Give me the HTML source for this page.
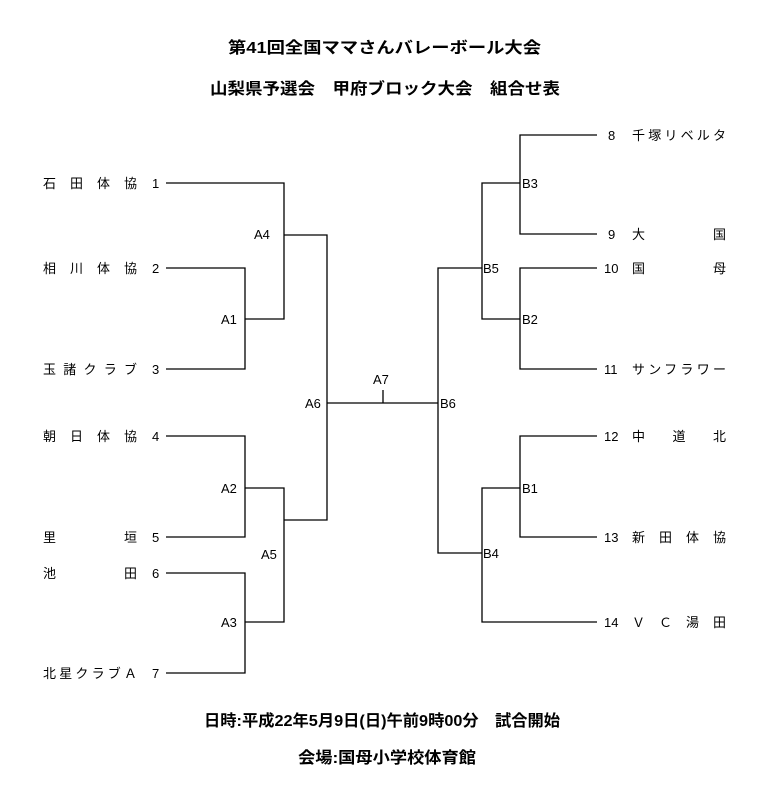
<!DOCTYPE html>
<html><head><meta charset="utf-8"><style>
html,body{margin:0;padding:0;background:#fff;}
svg{display:block;}
text{font-family:"Liberation Sans","Noto Sans CJK JP",sans-serif;fill:#000;}
.t{font-size:16px;font-weight:bold;}
.n{font-size:13px;}
.l{font-size:13px;}
</style></head><body>
<svg width="775" height="800" viewBox="0 0 775 800" xmlns="http://www.w3.org/2000/svg">
<text class="t" x="228" y="53" textLength="313" lengthAdjust="spacingAndGlyphs">第41回全国ママさんバレーボール大会</text>
<text class="t" x="210" y="94" textLength="350" lengthAdjust="spacingAndGlyphs">山梨県予選会　甲府ブロック大会　組合せ表</text>
<text class="t" x="204" y="726" textLength="356" lengthAdjust="spacingAndGlyphs">日時:平成22年5月9日(日)午前9時00分　試合開始</text>
<text class="t" x="298" y="763" textLength="178" lengthAdjust="spacingAndGlyphs">会場:国母小学校体育館</text>

<g stroke="#000" stroke-width="1.3" fill="none">
<path d="M166 183H284V319H245M166 268H245V369H166M284 235H327V520H284M245 319"/>
<path d="M166 436H245V537H166M245 488H284V622H245M166 573H245V673H166"/>
<path d="M327 403H438M383 390V403"/>
<path d="M597 135H520V234H597M520 183H482V319H520M597 268H520V369H597M482 268H438V553H482"/>
<path d="M597 436H520V537H597M520 488H482V622H597"/>
</g>

<g class="n">
<text x="43" y="188" textLength="94" lengthAdjust="spacing">石田体協</text><text x="152" y="188">1</text>
<text x="43" y="273" textLength="94" lengthAdjust="spacing">相川体協</text><text x="152" y="273">2</text>
<text x="43" y="374" textLength="94" lengthAdjust="spacing">玉諸クラブ</text><text x="152" y="374">3</text>
<text x="43" y="441" textLength="94" lengthAdjust="spacing">朝日体協</text><text x="152" y="441">4</text>
<text x="43" y="542">里</text><text x="124" y="542">垣</text><text x="152" y="542">5</text>
<text x="43" y="578">池</text><text x="124" y="578">田</text><text x="152" y="578">6</text>
<text x="43" y="678" textLength="94" lengthAdjust="spacing">北星クラブＡ</text><text x="152" y="678">7</text>

<text x="608" y="140">8</text><text x="632" y="140" textLength="94" lengthAdjust="spacing">千塚リベルタ</text>
<text x="608" y="239">9</text><text x="632" y="239">大</text><text x="713" y="239">国</text>
<text x="604" y="273">10</text><text x="632" y="273">国</text><text x="713" y="273">母</text>
<text x="604" y="374">11</text><text x="632" y="374" textLength="94" lengthAdjust="spacing">サンフラワー</text>
<text x="604" y="441">12</text><text x="632" y="441" textLength="94" lengthAdjust="spacing">中道北</text>
<text x="604" y="542">13</text><text x="632" y="542" textLength="94" lengthAdjust="spacing">新田体協</text>
<text x="604" y="627">14</text><text x="632" y="627" textLength="94" lengthAdjust="spacing">ＶＣ湯田</text>
</g>

<g class="l">
<text x="254" y="239">A4</text>
<text x="221" y="324">A1</text>
<text x="221" y="493">A2</text>
<text x="261" y="559">A5</text>
<text x="221" y="627">A3</text>
<text x="305" y="408">A6</text>
<text x="373" y="384">A7</text>
<text x="440" y="408">B6</text>
<text x="522" y="188">B3</text>
<text x="483" y="273">B5</text>
<text x="522" y="324">B2</text>
<text x="522" y="493">B1</text>
<text x="483" y="558">B4</text>
</g>
</svg>
</body></html>
